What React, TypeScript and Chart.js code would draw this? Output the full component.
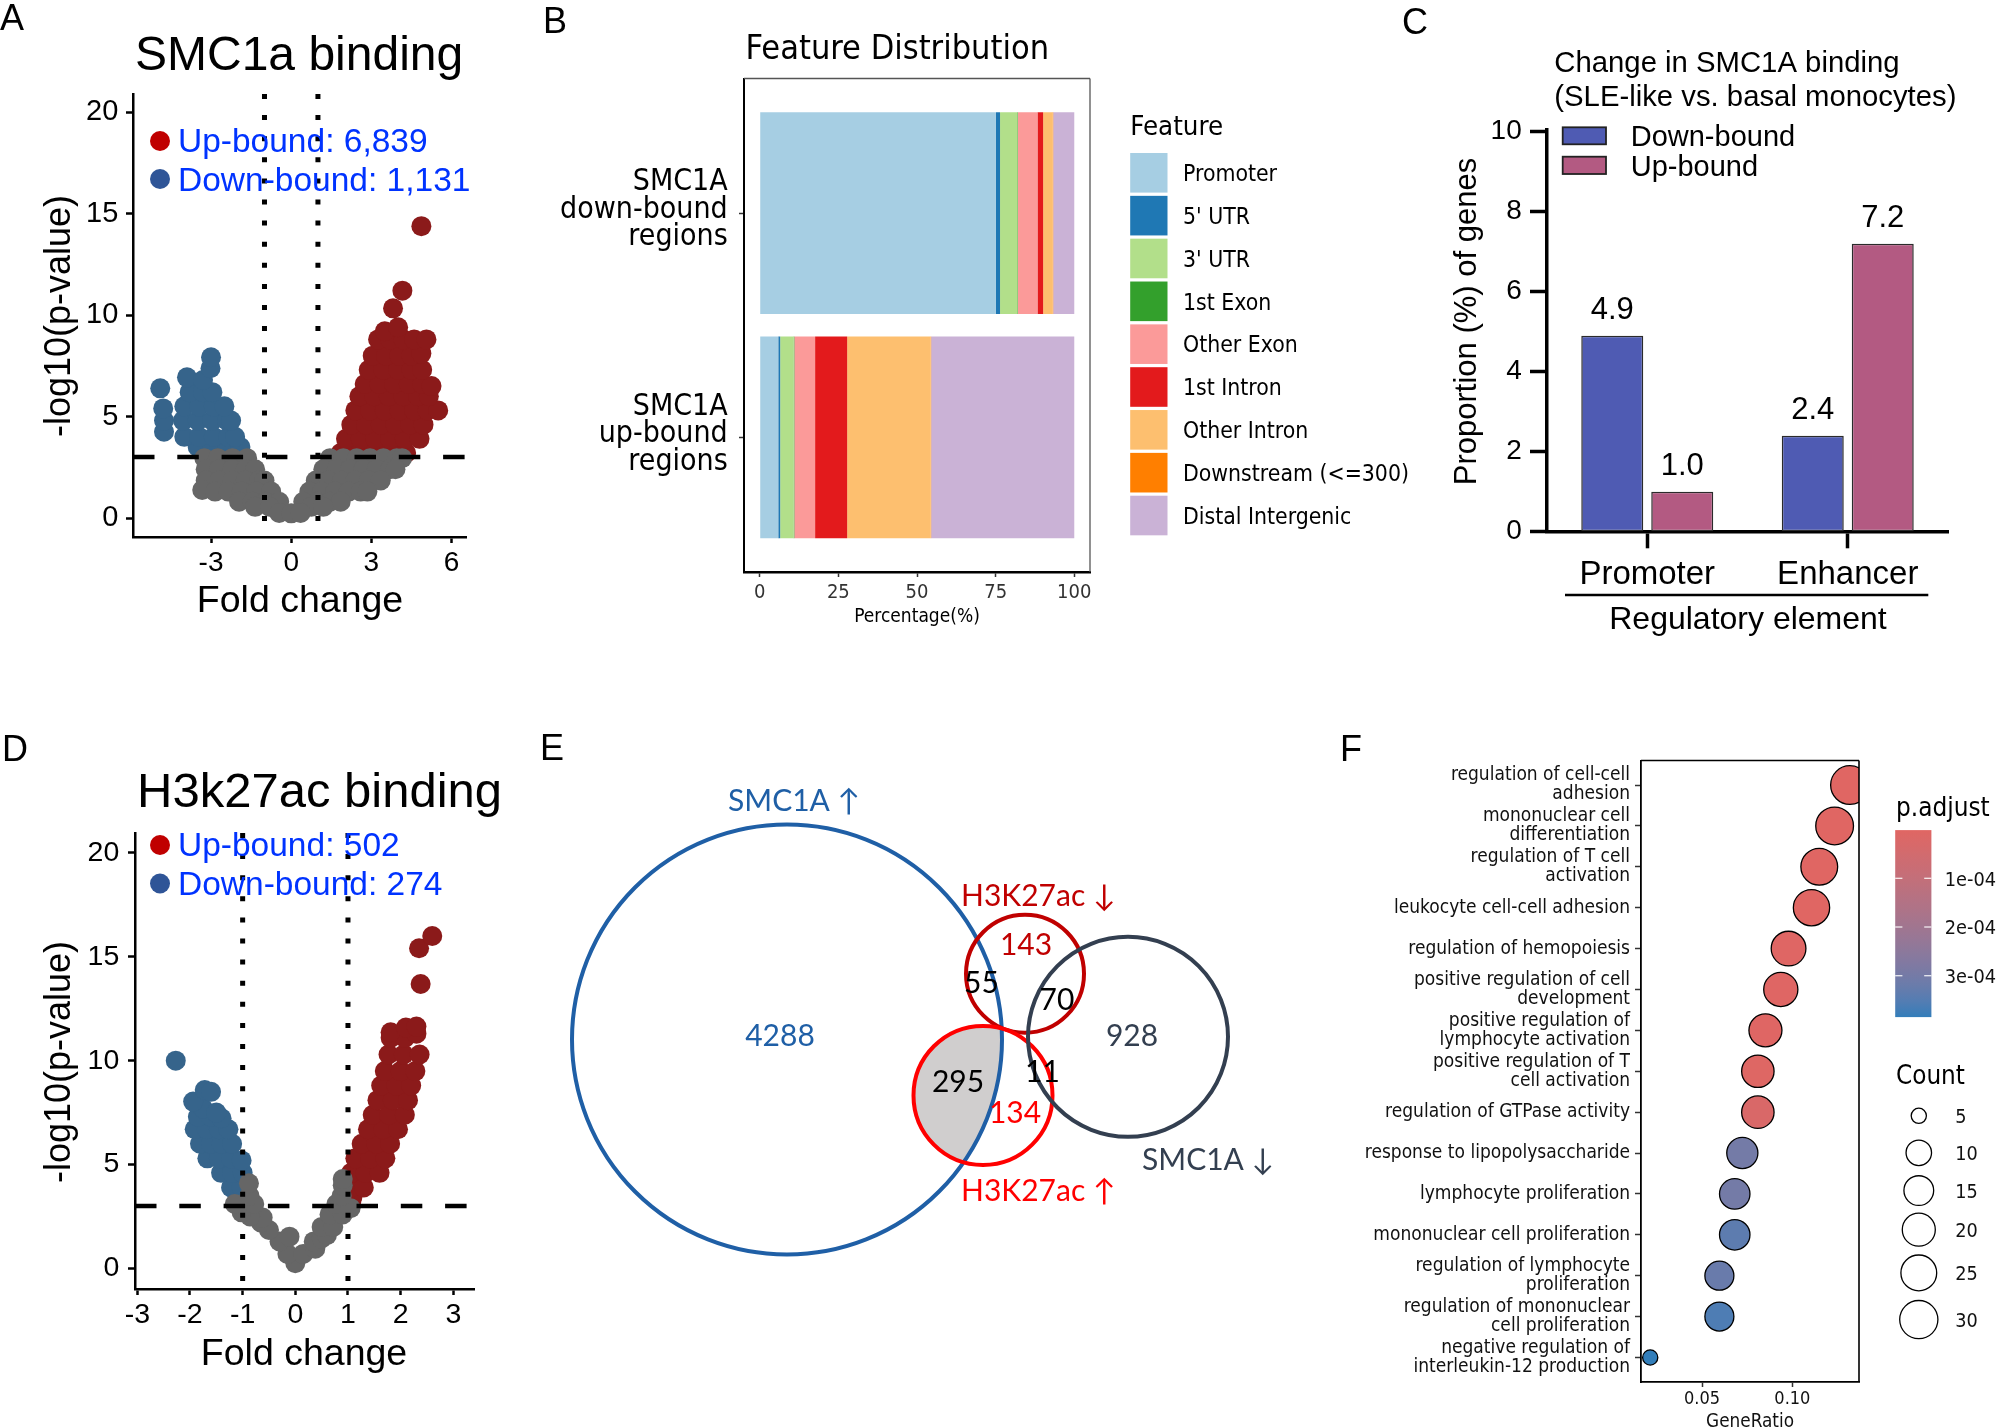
import React, { useEffect, useRef } from "react";
import { Chart, registerables } from "chart.js";

Chart.register(...registerables);

const ARIAL = "'Liberation Sans', Arial, sans-serif";
const COND = "'DejaVu Sans Condensed', 'DejaVu Sans', sans-serif";
const VENN = "Lato, 'Liberation Sans', sans-serif";

// ---------------- Panel A: SMC1a binding (volcano) ----------------
const aXTicks = [-3, 0, 3, 6];
const aYTicks = [0, 5, 10, 15, 20];
const aLegend = ["Up-bound: 6,839", "Down-bound: 1,131"];
const aGray = [
  [-3.25, 2.95], [-2.75, 2.95], [-2.2, 2.95], [-1.65, 2.95], [1.45, 2.95], [1.95, 2.95], [2.45, 2.95], [2.95, 2.95], [3.45, 2.95], [3.95, 2.95], [4.15, 2.95],
  [-3.2, 2.4], [-2.7, 2.4], [-2.2, 2.4], [-1.7, 2.4], [-1.35, 2.4], [1.2, 2.4], [1.7, 2.4], [2.2, 2.4], [2.7, 2.4], [3.2, 2.4], [3.7, 2.4], [3.9, 2.4],
  [-3.2, 1.85], [-2.7, 1.85], [-2.2, 1.85], [-1.7, 1.85], [-1.2, 1.85], [-1.0, 1.85], [0.92, 1.85], [1.4, 1.85], [1.9, 1.85], [2.4, 1.85], [2.9, 1.85], [3.35, 1.85],
  [-3.33, 1.38], [-2.85, 1.3], [-2.35, 1.3], [-1.85, 1.3], [-1.3, 1.3], [-0.75, 1.3], [0.68, 1.3], [1.15, 1.3], [1.65, 1.3], [2.15, 1.3], [2.6, 1.3], [2.85, 1.3],
  [-1.95, 0.8], [-1.45, 0.8], [-0.95, 0.8], [-0.45, 0.8], [0.45, 0.8], [0.95, 0.8], [1.45, 0.8], [1.85, 0.8],
  [-1.35, 0.55], [-0.8, 0.55], [0.75, 0.55], [1.2, 0.55],
  [-0.45, 0.25], [0, 0.23], [0.35, 0.25],
];
const aUp = [
  [1.85, 3.2], [2.4, 3.2], [2.95, 3.2], [3.5, 3.2], [4.05, 3.2], [4.3, 3.2],
  [2.05, 3.9], [2.6, 3.9], [3.15, 3.9], [3.7, 3.9], [4.25, 3.9], [4.8, 3.9],
  [2.25, 4.6], [2.8, 4.6], [3.35, 4.6], [3.9, 4.6], [4.45, 4.6], [4.95, 4.6],
  [2.4, 5.3], [2.95, 5.3], [3.5, 5.3], [4.05, 5.3], [4.6, 5.3], [5.1, 5.3], [5.5, 5.3],
  [2.55, 6.0], [3.1, 6.0], [3.65, 6.0], [4.2, 6.0], [4.75, 6.0], [5.15, 6.0],
  [2.75, 6.6], [3.3, 6.6], [3.85, 6.6], [4.4, 6.6], [4.9, 6.6], [5.25, 6.5],
  [2.9, 7.3], [3.45, 7.3], [4.0, 7.3], [4.5, 7.3], [4.9, 7.3],
  [3.05, 8.0], [3.55, 8.0], [4.05, 8.0], [4.5, 8.0], [4.87, 8.1],
  [3.25, 8.8], [3.7, 8.8], [4.2, 8.8], [4.6, 8.8], [5.06, 8.8],
  [3.5, 9.2], [4.0, 9.4],
  [3.81, 10.33], [4.16, 11.2], [4.87, 14.38],
];
const aDown = [
  [-3.5, 3.5], [-2.95, 3.5], [-2.4, 3.5], [-1.9, 3.5],
  [-4.0, 4.0], [-3.45, 4.0], [-2.9, 4.0], [-2.35, 4.0], [-2.1, 4.0],
  [-4.76, 4.25],
  [-4.76, 4.8], [-4.05, 4.8], [-3.5, 4.8], [-2.95, 4.8], [-2.4, 4.8], [-2.25, 4.8],
  [-4.79, 5.4], [-4.0, 5.5], [-3.45, 5.5], [-2.9, 5.5], [-2.5, 5.5],
  [-3.8, 6.2], [-3.3, 6.2], [-2.95, 6.2],
  [-4.9, 6.39], [-3.9, 6.93], [-3.3, 6.8], [-3.02, 7.38], [-3.0, 7.92],
];

// ---------------- Panel D: H3k27ac binding (volcano) ----------------
const dXTicks = [-3, -2, -1, 0, 1, 2, 3];
const dYTicks = [0, 5, 10, 15, 20];
const dLegend = ["Up-bound: 502", "Down-bound: 274"];
const dGray = [
  [0, 0.25], [-0.15, 0.7], [0.15, 0.7], [-0.3, 1.3], [-0.11, 1.53], [-0.5, 1.85], [-0.65, 2.2], [-0.62, 2.45], [-0.86, 2.5],
  [-1.02, 2.7], [-0.95, 3.0], [-1.15, 3.1], [-0.78, 3.1], [-0.87, 3.5], [-0.88, 4.1],
  [0.38, 0.95], [0.35, 1.3], [0.5, 1.45], [0.6, 1.6], [0.5, 2.0], [0.72, 2.0], [0.65, 2.6], [0.9, 2.6], [0.78, 3.1], [1.05, 2.9],
  [0.88, 3.5], [0.9, 4.0], [0.9, 4.3],
];
const dUp = [
  [1.07, 3.3], [1.09, 3.5], [1.06, 3.9], [1.3, 3.9],
  [1.06, 4.6], [1.33, 4.6], [1.6, 4.6],
  [1.14, 5.3], [1.42, 5.3], [1.71, 5.3],
  [1.26, 6.0], [1.54, 6.0], [1.8, 6.0],
  [1.38, 6.7], [1.67, 6.7], [1.95, 6.7],
  [1.47, 7.4], [1.78, 7.4], [2.08, 7.4],
  [1.56, 8.1], [1.85, 8.1], [2.14, 8.1],
  [1.63, 8.8], [1.92, 8.8], [2.2, 8.8],
  [1.7, 9.5], [2.0, 9.5], [2.28, 9.5],
  [1.77, 10.3], [2.06, 10.3], [2.36, 10.3],
  [1.81, 11.1], [2.08, 11.1], [2.3, 11.3],
  [1.81, 11.37], [2.1, 11.6], [2.3, 11.64],
  [2.38, 13.69], [2.35, 15.41], [2.6, 16.0],
];
const dDown = [
  [-1.1, 3.3], [-1.22, 3.9], [-1.02, 3.9],
  [-1.41, 4.6], [-1.2, 4.6], [-1.0, 4.6],
  [-1.67, 5.3], [-1.45, 5.3], [-1.22, 5.3], [-1.02, 5.2],
  [-1.81, 6.0], [-1.6, 6.0], [-1.4, 6.0], [-1.2, 6.0],
  [-1.91, 6.7], [-1.68, 6.7], [-1.45, 6.7], [-1.27, 6.7],
  [-1.85, 7.3], [-1.6, 7.3], [-1.4, 7.23],
  [-1.75, 7.7], [-1.5, 7.5],
  [-1.94, 8.03], [-1.72, 8.59], [-1.6, 8.5], [-2.27, 10.0],
];
const foldChangeCut = [-1, 1];
const log10PCut = 3;

// ---------------- Panel B: feature distribution ----------------
const bRegions = [["SMC1A", "down-bound", "regions"], ["SMC1A", "up-bound", "regions"]];
const bFeatures = ["Promoter", "5' UTR", "3' UTR", "1st Exon", "Other Exon", "1st Intron", "Other Intron", "Downstream (<=300)", "Distal Intergenic"];
const bDownBound = [75.1, 1.3, 5.5, 0.2, 6.2, 1.8, 3.0, 0.2, 6.7];
const bUpBound = [5.9, 0.6, 4.3, 0.2, 6.6, 10.2, 26.6, 0.1, 45.5];
const bXTicks = [0, 25, 50, 75, 100];

// ---------------- Panel C: change in SMC1A binding ----------------
const cElements = ["Promoter", "Enhancer"];
const cSeries = ["Down-bound", "Up-bound"];
const cDownBound = [4.9, 2.4];
const cUpBound = [1.0, 7.2];
const cYTicks = [0, 2, 4, 6, 8, 10];

// ---------------- Panel E: Venn ----------------
const vennSets = ["SMC1A ↑", "H3K27ac ↓", "H3K27ac ↑", "SMC1A ↓"];
const vennRegionCounts = [4288, 143, 55, 70, 928, 295, 11, 134];

// ---------------- Panel F: GO enrichment ----------------
const goTerms = [
  ["regulation of cell-cell", "adhesion"],
  ["mononuclear cell", "differentiation"],
  ["regulation of T cell", "activation"],
  ["leukocyte cell-cell adhesion"],
  ["regulation of hemopoiesis"],
  ["positive regulation of cell", "development"],
  ["positive regulation of", "lymphocyte activation"],
  ["positive regulation of T", "cell activation"],
  ["regulation of GTPase activity"],
  ["response to lipopolysaccharide"],
  ["lymphocyte proliferation"],
  ["mononuclear cell proliferation"],
  ["regulation of lymphocyte", "proliferation"],
  ["regulation of mononuclear", "cell proliferation"],
  ["negative regulation of", "interleukin-12 production"],
];
const goGeneRatio = [0.1319, 0.1234, 0.1149, 0.1106, 0.0979, 0.0936, 0.0851, 0.0809, 0.0809, 0.0723, 0.0681, 0.0681, 0.0596, 0.0596, 0.0213];
const goCount = [31, 29, 27, 26, 23, 22, 20, 19, 19, 17, 16, 16, 14, 14, 5];
const goPAdjust = [1.0e-6, 1.4e-6, 2.1e-6, 2.3e-6, 3.9e-6, 4.6e-6, 5.2e-6, 6.8e-6, 2.4e-5, 3.0e-4, 3.0e-4, 3.39e-4, 3.2e-4, 3.58e-4, 3.85e-4];
const fXTicks = [0.05, 0.1];
const fColorTicks = [1e-4, 2e-4, 3e-4];
const fSizeBreaks = [5, 10, 15, 20, 25, 30];

// ================= styling / layout =================
const GRAY = "#666666";
const RED = "#8B1A1A";
const BLUE = "#36648B";
const LEG_RED = "#C00000";
const LEG_BLUE = "#2F5597";
const LEG_TXT = "#0033FF";
const B_COLORS = ["#A6CEE3", "#1F78B4", "#B2DF8A", "#33A02C", "#FB9A99", "#E31A1C", "#FDBF6F", "#FF7F00", "#CAB2D6"];
const C_COLORS = ["#4F5BB3", "#B35A82"];
const VENN_COLORS = ["#1F5FA6", "#C00000", "#FF0000", "#333F50"];
const VENN_GEO = { cx: [257, 495, 453, 598], cy: [319.5, 253.7, 375.4, 316.8], r: [215, 59, 69.5, 100] };
const NOPLUG = { legend: { display: false }, tooltip: { enabled: false }, title: { display: false } };

type Geo = { L: number; T: number; W: number; H: number; al: number; at: number; ar: number; ab: number };
const GA: Geo = { L: 0, T: 0, W: 500, H: 650, al: 133, at: 94, ar: 466, ab: 537 };
const GB: Geo = { L: 520, T: 0, W: 910, H: 650, al: 744, at: 78.5, ar: 1090, ab: 572 };
const GC: Geo = { L: 1395, T: 0, W: 603, H: 660, al: 1547, at: 130, ar: 1948, ab: 531.7 };
const GD: Geo = { L: 0, T: 720, W: 500, H: 700, al: 135, at: 833, ar: 474, ab: 1289 };
const GE: Geo = { L: 530, T: 720, W: 800, H: 600, al: 530, at: 720, ar: 1330, ab: 1320 };
const GF: Geo = { L: 1340, T: 725, W: 658, H: 703, al: 1641, at: 760.5, ar: 1859, ab: 1382 };

function fitGeo(g: Geo) {
  const zero = (s: any) => { s.paddingLeft = 0; s.paddingRight = 0; s.paddingTop = 0; s.paddingBottom = 0; };
  return {
    padding: { left: 0, top: g.at - g.T, right: g.L + g.W - g.ar, bottom: 0 },
    yFit: (s: any) => { s.width = g.al - g.L; zero(s); },
    xFit: (s: any) => { s.height = g.T + g.H - g.ab; zero(s); },
  };
}
const fixTicks = (vals: number[]) => (s: any) => { s.ticks = vals.map((v) => ({ value: v })); };

function txt(ctx: CanvasRenderingContext2D, s: string, x: number, y: number, size: number, family: string, color: string,
  align: CanvasTextAlign = "left", rot = 0, baseline: CanvasTextBaseline = "alphabetic") {
  ctx.save();
  ctx.translate(x, y);
  if (rot) ctx.rotate(rot);
  ctx.font = `${size}px ${family}`;
  ctx.fillStyle = color;
  ctx.textAlign = align;
  ctx.textBaseline = baseline;
  ctx.fillText(s, 0, 0);
  ctx.restore();
}
function disc(ctx: CanvasRenderingContext2D, x: number, y: number, r: number, fill: string, stroke?: string, lw = 1) {
  ctx.beginPath();
  ctx.arc(x, y, r, 0, Math.PI * 2);
  ctx.fillStyle = fill;
  ctx.fill();
  if (stroke) { ctx.lineWidth = lw; ctx.strokeStyle = stroke; ctx.stroke(); }
}
function seg(ctx: CanvasRenderingContext2D, x1: number, y1: number, x2: number, y2: number, color: string, lw: number) {
  ctx.beginPath();
  ctx.moveTo(x1, y1);
  ctx.lineTo(x2, y2);
  ctx.strokeStyle = color;
  ctx.lineWidth = lw;
  ctx.stroke();
}
function overlay(g: Geo, after: (ctx: CanvasRenderingContext2D, chart: any) => void, before?: (ctx: CanvasRenderingContext2D, chart: any) => void) {
  return {
    id: "overlay",
    beforeDatasetsDraw(chart: any) {
      if (!before) return;
      const ctx = chart.ctx; ctx.save(); before(ctx, chart); ctx.restore();
    },
    afterDraw(chart: any) {
      const ctx = chart.ctx; ctx.save(); ctx.translate(-g.L, -g.T); after(ctx, chart); ctx.restore();
    },
  };
}

// ---- Lab colour interpolation (ggplot-like gradient) ----
function hexRgb(h: string) { const n = parseInt(h.slice(1), 16); return [(n >> 16) & 255, (n >> 8) & 255, n & 255]; }
function toLin(c: number) { c /= 255; return c <= 0.04045 ? c / 12.92 : Math.pow((c + 0.055) / 1.055, 2.4); }
function fromLin(c: number) { const v = c <= 0.0031308 ? 12.92 * c : 1.055 * Math.pow(c, 1 / 2.4) - 0.055; return Math.round(Math.max(0, Math.min(1, v)) * 255); }
function rgbLab(rgb: number[]) {
  const [R, G, B] = rgb.map(toLin);
  const X = (0.4124 * R + 0.3576 * G + 0.1805 * B) / 0.95047;
  const Y = 0.2126 * R + 0.7152 * G + 0.0722 * B;
  const Z = (0.0193 * R + 0.1192 * G + 0.9505 * B) / 1.08883;
  const f = (t: number) => (t > 0.008856 ? Math.cbrt(t) : 7.787 * t + 16 / 116);
  const fx = f(X), fy = f(Y), fz = f(Z);
  return [116 * fy - 16, 500 * (fx - fy), 200 * (fy - fz)];
}
function labRgb(lab: number[]) {
  const [L, a, b] = lab;
  const fy = (L + 16) / 116, fx = fy + a / 500, fz = fy - b / 200;
  const inv = (t: number) => (t * t * t > 0.008856 ? t * t * t : (t - 16 / 116) / 7.787);
  const X = inv(fx) * 0.95047, Y = inv(fy), Z = inv(fz) * 1.08883;
  const R = 3.2406 * X - 1.5372 * Y - 0.4986 * Z;
  const G = -0.9689 * X + 1.8758 * Y + 0.0415 * Z;
  const B = 0.0557 * X - 0.204 * Y + 1.057 * Z;
  return `rgb(${fromLin(R)},${fromLin(G)},${fromLin(B)})`;
}
const LAB_LOW = rgbLab(hexRgb("#E06663"));
const LAB_HIGH = rgbLab(hexRgb("#327EBA"));
const gradAt = (t: number) => labRgb(LAB_LOW.map((v, i) => v + (LAB_HIGH[i] - v) * t));
const P_MIN = Math.min(...goPAdjust);
const P_MAX = Math.max(...goPAdjust);
const colorOf = (p: number) => gradAt((p - P_MIN) / (P_MAX - P_MIN));
const C_MIN = Math.min(...goCount);
const C_MAX = Math.max(...goCount);
const sizeOf = (c: number) => 7.6 + 11.73 * Math.sqrt(Math.max(0, c - C_MIN) / (C_MAX - C_MIN));

// ================= panel builders =================
function volcano(p: any) {
  const g: Geo = p.g;
  const f = fitGeo(g);
  const pts = (a: number[][]) => a.map(([x, y]) => ({ x, y }));
  const refLine = (data: any[], dash: number[], w: number) => ({
    data, showLine: true, borderColor: "#000", borderWidth: w, borderDash: dash, borderCapStyle: "butt",
    pointRadius: 0, pointHoverRadius: 0, fill: false,
  });
  const cloud = (a: number[][], color: string) => ({
    data: pts(a), showLine: false, pointRadius: 10, pointHoverRadius: 10, pointBackgroundColor: color,
    pointBorderColor: color, pointBorderWidth: 0, borderWidth: 0,
  });
  const axis = (len: number) => ({
    grid: { display: true, drawOnChartArea: false, drawTicks: true, tickLength: len, tickWidth: 2.5, tickColor: "#000" },
    border: { display: true, color: "#000", width: 2.5 },
  });
  return {
    type: "scatter",
    data: {
      datasets: [
        refLine([{ x: foldChangeCut[0], y: p.yr[1] }, { x: foldChangeCut[0], y: p.yr[0] }], [5, 16.1], 5),
        refLine([{ x: foldChangeCut[1], y: p.yr[1] }, { x: foldChangeCut[1], y: p.yr[0] }], [5, 16.1], 5),
        refLine([{ x: p.xr[0], y: log10PCut }, { x: p.xr[1], y: log10PCut }], [21.5, 22.8], 4.5),
        cloud(p.gray, GRAY),
        cloud(p.down, BLUE),
        cloud(p.up, RED),
      ],
    },
    options: {
      responsive: false, animation: false, events: [],
      layout: { padding: f.padding, autoPadding: false },
      plugins: NOPLUG,
      scales: {
        x: {
          type: "linear", min: p.xr[0], max: p.xr[1], afterFit: f.xFit, afterBuildTicks: fixTicks(p.xTicks),
          ticks: { font: { family: ARIAL, size: p.xTickSize }, color: "#000", padding: 3, maxRotation: 0, minRotation: 0, autoSkip: false, callback: (v: number) => String(v) },
          ...axis(6),
        },
        y: {
          type: "linear", min: p.yr[0], max: p.yr[1], afterFit: f.yFit, afterBuildTicks: fixTicks(p.yTicks),
          ticks: { font: { family: ARIAL, size: p.yTickSize }, color: "#000", padding: p.yPad, autoSkip: false, callback: (v: number) => String(v) },
          ...axis(7),
        },
      },
    },
    plugins: [overlay(g, (ctx) => p.draw(ctx))],
  };
}

function panelA() {
  return volcano({
    g: GA, xr: [-5.92, 6.54], yr: [-0.936, 20.89], xTicks: aXTicks, yTicks: aYTicks,
    gray: aGray, up: aUp, down: aDown, xTickSize: 28, yTickSize: 29, yPad: 7.7,
    draw: (ctx: CanvasRenderingContext2D) => {
      txt(ctx, "A", 0, 30, 36, ARIAL, "#000");
      txt(ctx, "SMC1a binding", 135, 69.5, 48, ARIAL, "#000");
      disc(ctx, 160, 141, 10, LEG_RED);
      disc(ctx, 160, 179, 10, LEG_BLUE);
      txt(ctx, aLegend[0], 178, 151.7, 33.5, ARIAL, LEG_TXT);
      txt(ctx, aLegend[1], 178, 190.7, 33.5, ARIAL, LEG_TXT);
      txt(ctx, "-log10(p-value)", 60, 316, 36, ARIAL, "#000", "center", -Math.PI / 2, "middle");
      txt(ctx, "Fold change", 300, 612, 37.5, ARIAL, "#000", "center");
    },
  });
}

function panelD() {
  return volcano({
    g: GD, xr: [-3.044, 3.393], yr: [-0.99, 20.96], xTicks: dXTicks, yTicks: dYTicks,
    gray: dGray, up: dUp, down: dDown, xTickSize: 28.5, yTickSize: 28.5, yPad: 8.7,
    draw: (ctx: CanvasRenderingContext2D) => {
      txt(ctx, "D", 2, 761, 36, ARIAL, "#000");
      txt(ctx, "H3k27ac binding", 137, 807, 49, ARIAL, "#000");
      disc(ctx, 160, 845, 10, LEG_RED);
      disc(ctx, 160, 883.5, 10, LEG_BLUE);
      txt(ctx, dLegend[0], 178, 856, 33.5, ARIAL, LEG_TXT);
      txt(ctx, dLegend[1], 178, 895.2, 33.5, ARIAL, LEG_TXT);
      txt(ctx, "-log10(p-value)", 60, 1062, 36, ARIAL, "#000", "center", -Math.PI / 2, "middle");
      txt(ctx, "Fold change", 304, 1365, 37.5, ARIAL, "#000", "center");
    },
  });
}

function panelB() {
  const g = GB;
  const f = fitGeo(g);
  return {
    type: "bar",
    data: {
      datasets: bFeatures.map((name, i) => ({
        label: name,
        data: [{ x: bDownBound[i], y: 1 }, { x: bUpBound[i], y: 2 }],
        backgroundColor: B_COLORS[i], borderWidth: 0, categoryPercentage: 0.9, barPercentage: 1,
      })),
    },
    options: {
      indexAxis: "y", responsive: false, animation: false, events: [],
      layout: { padding: f.padding, autoPadding: false },
      plugins: NOPLUG,
      scales: {
        x: {
          type: "linear", stacked: true, min: -5, max: 105, afterFit: f.xFit, afterBuildTicks: fixTicks(bXTicks),
          ticks: { font: { family: COND, size: 20 }, color: "#333", padding: 4, maxRotation: 0, minRotation: 0, autoSkip: false, callback: (v: number) => String(v) },
          grid: { display: true, offset: false, drawOnChartArea: false, drawTicks: true, tickLength: 5, tickWidth: 1.5, tickColor: "#333" },
          border: { display: true, color: "#000", width: 2.5 },
        },
        y: {
          type: "linear", stacked: true, reverse: true, offset: false, min: 0.4, max: 2.6, afterFit: f.yFit, afterBuildTicks: fixTicks([1, 2]),
          ticks: { font: { family: COND, size: 30, lineHeight: "27.5px" }, color: "#000", padding: 11.3, labelOffset: -3, autoSkip: false, callback: (v: number) => bRegions[v - 1] },
          grid: { display: true, offset: false, drawOnChartArea: false, drawTicks: true, tickLength: 5, tickWidth: 1.5, tickColor: "#333" },
          border: { display: true, color: "#000", width: 2 },
        },
      },
    },
    plugins: [overlay(g, (ctx) => {
      txt(ctx, "B", 543, 33, 36, ARIAL, "#000");
      txt(ctx, "Feature Distribution", 745.6, 59.2, 34, COND, "#000");
      seg(ctx, g.al, g.at, g.ar, g.at, "#555", 1.3);
      seg(ctx, g.ar, g.at, g.ar, g.ab, "#555", 1.3);
      txt(ctx, "Percentage(%)", 917, 622, 19, COND, "#000", "center");
      txt(ctx, "Feature", 1130.2, 134.6, 27.4, COND, "#000");
      bFeatures.forEach((name, i) => {
        const top = 153 + i * 42.84;
        ctx.fillStyle = B_COLORS[i];
        ctx.fillRect(1130.2, top, 37.3, 39.6);
        txt(ctx, name, 1183, top + 19.8 + 8.3, 22.8, COND, "#000");
      });
    })],
  };
}

function panelC() {
  const g = GC;
  const f = fitGeo(g);
  const series = [cDownBound, cUpBound];
  return {
    type: "bar",
    data: {
      labels: cElements,
      datasets: series.map((vals, i) => ({
        label: cSeries[i], data: vals, backgroundColor: C_COLORS[i], borderColor: "#2b2b2b", borderWidth: 1.5,
        borderSkipped: false, categoryPercentage: 0.698, barPercentage: 0.886,
      })),
    },
    options: {
      responsive: false, animation: false, events: [],
      layout: { padding: f.padding, autoPadding: false },
      plugins: NOPLUG,
      scales: {
        x: {
          type: "category", offset: true, afterFit: f.xFit,
          ticks: { font: { family: ARIAL, size: 33 }, color: "#000", padding: 6.7, maxRotation: 0, minRotation: 0, autoSkip: false },
          grid: { display: true, offset: false, drawOnChartArea: false, drawTicks: true, tickLength: 16.6, tickWidth: 3.5, tickColor: "#000" },
          border: { display: true, color: "#000", width: 3.5 },
        },
        y: {
          type: "linear", min: 0, max: 10.04, afterFit: f.yFit, afterBuildTicks: fixTicks(cYTicks),
          ticks: { font: { family: ARIAL, size: 28 }, color: "#000", padding: 8.3, autoSkip: false, callback: (v: number) => String(v) },
          grid: { display: true, drawOnChartArea: false, drawTicks: true, tickLength: 17, tickWidth: 3.5, tickColor: "#000" },
          border: { display: true, color: "#000", width: 3.5 },
        },
      },
    },
    plugins: [overlay(g, (ctx, chart) => {
      txt(ctx, "C", 1402, 34, 36, ARIAL, "#000");
      txt(ctx, "Change in SMC1A binding", 1554.3, 72, 29.3, ARIAL, "#000");
      txt(ctx, "(SLE-like vs. basal monocytes)", 1554.3, 106, 29.3, ARIAL, "#000");
      const boxes = [[127.3, 17], [156.7, 17.3]];
      boxes.forEach(([y, h], i) => {
        ctx.fillStyle = C_COLORS[i];
        ctx.fillRect(1562.7, y, 43.3, h);
        ctx.lineWidth = 1.8; ctx.strokeStyle = "#222";
        ctx.strokeRect(1562.7, y, 43.3, h);
      });
      txt(ctx, cSeries[0], 1630.7, 146, 29, ARIAL, "#000");
      txt(ctx, cSeries[1], 1630.7, 175.7, 29, ARIAL, "#000");
      series.forEach((vals, i) => {
        const meta = chart.getDatasetMeta(i);
        vals.forEach((v, j) => {
          const el = meta.data[j];
          txt(ctx, v.toFixed(1), el.x + g.L, el.y + g.T - 16.5, 31, ARIAL, "#000", "center");
        });
      });
      seg(ctx, 1565, 595, 1928.3, 595, "#000", 2.5);
      txt(ctx, "Regulatory element", 1748, 629, 32, ARIAL, "#000", "center");
      txt(ctx, "Proportion (%) of genes", 1467.5, 321.5, 31, ARIAL, "#000", "center", -Math.PI / 2, "middle");
    })],
  };
}

function panelE() {
  const g = GE;
  return {
    type: "bubble",
    data: {
      datasets: [{
        data: VENN_GEO.cx.map((x, i) => ({ x, y: VENN_GEO.cy[i], r: VENN_GEO.r[i] })),
        borderColor: VENN_COLORS, backgroundColor: "rgba(0,0,0,0)", borderWidth: 4, hoverBorderWidth: 4, hoverRadius: 0,
        clip: false,
      }],
    },
    options: {
      responsive: false, animation: false, events: [],
      layout: { padding: 0, autoPadding: false },
      plugins: NOPLUG,
      scales: {
        x: { type: "linear", display: false, offset: false, min: 0, max: g.W },
        y: { type: "linear", display: false, offset: false, min: 0, max: g.H, reverse: true },
      },
    },
    plugins: [overlay(g, (ctx) => {
      txt(ctx, "E", 540, 760, 36, ARIAL, "#000");
      txt(ctx, vennSets[0], 728, 811, 30, VENN, VENN_COLORS[0]);
      txt(ctx, vennSets[1], 961, 905.5, 30, VENN, VENN_COLORS[1]);
      txt(ctx, vennSets[2], 961, 1201, 30, VENN, VENN_COLORS[2]);
      txt(ctx, vennSets[3], 1142, 1169.5, 30, VENN, VENN_COLORS[3]);
      const spots = [
        [780, 1046, VENN_COLORS[0]], [1026, 954.5, VENN_COLORS[1]], [981.5, 992.5, "#000"], [1057, 1010, "#000"],
        [1132, 1046, VENN_COLORS[3]], [958, 1091.5, "#000"], [1042.5, 1082, "#000"], [1015, 1123, VENN_COLORS[2]],
      ];
      vennRegionCounts.forEach((n, i) => {
        const [x, y, c] = spots[i] as any;
        txt(ctx, String(n), x, y, 30, VENN, c, "center");
      });
    }, (ctx, chart) => {
      const xs = chart.scales.x, ys = chart.scales.y;
      const P = (i: number) => [xs.getPixelForValue(VENN_GEO.cx[i]), ys.getPixelForValue(VENN_GEO.cy[i]), xs.getPixelForValue(VENN_GEO.cx[i] + VENN_GEO.r[i]) - xs.getPixelForValue(VENN_GEO.cx[i])];
      const [bx, by, br] = P(0);
      const [rx, ry, rr] = P(2);
      ctx.beginPath(); ctx.arc(bx, by, br, 0, Math.PI * 2); ctx.clip();
      ctx.beginPath(); ctx.arc(rx, ry, rr, 0, Math.PI * 2);
      ctx.fillStyle = "#D0CECE"; ctx.fill();
    })],
  };
}

function panelF() {
  const g = GF;
  const f = fitGeo(g);
  const radii = goCount.map(sizeOf);
  return {
    type: "scatter",
    data: {
      datasets: [{
        data: goGeneRatio.map((x, i) => ({ x, y: i + 1 })),
        showLine: false, pointRadius: radii, pointHoverRadius: radii,
        pointBackgroundColor: goPAdjust.map(colorOf), pointBorderColor: "#000", pointBorderWidth: 1.3, clip: 0,
      }],
    },
    options: {
      responsive: false, animation: false, events: [],
      layout: { padding: f.padding, autoPadding: false },
      plugins: NOPLUG,
      scales: {
        x: {
          type: "linear", min: 0.0162, max: 0.1369, afterFit: f.xFit, afterBuildTicks: fixTicks(fXTicks),
          ticks: { font: { family: COND, size: 18 }, color: "#111", padding: 2, maxRotation: 0, minRotation: 0, autoSkip: false, callback: (v: number) => v.toFixed(2) },
          grid: { display: true, drawOnChartArea: false, drawTicks: true, tickLength: 5, tickWidth: 1.5, tickColor: "#333" },
          border: { display: true, color: "#000", width: 1.8 },
        },
        y: {
          type: "linear", min: 0.4, max: 15.6, reverse: true, afterFit: f.yFit, afterBuildTicks: fixTicks(goTerms.map((_, i) => i + 1)),
          ticks: { font: { family: COND, size: 19, lineHeight: "19px" }, color: "#111", padding: 5, autoSkip: false, callback: (v: number) => goTerms[v - 1] },
          grid: { display: true, drawOnChartArea: false, drawTicks: true, tickLength: 6, tickWidth: 1.5, tickColor: "#333" },
          border: { display: true, color: "#000", width: 1.8 },
        },
      },
    },
    plugins: [overlay(g, (ctx) => {
      txt(ctx, "F", 1340, 761, 36, ARIAL, "#000");
      seg(ctx, g.al, g.at, g.ar, g.at, "#000", 1.6);
      seg(ctx, g.ar, g.at, g.ar, g.ab, "#000", 1.6);
      txt(ctx, "GeneRatio", 1750, 1426.7, 18.8, COND, "#111", "center");
      // colour bar
      txt(ctx, "p.adjust", 1896, 816, 25.9, COND, "#000");
      const cbX = 1895.2, cbY = 830.1, cbW = 36.2, cbH = 187;
      const grad = ctx.createLinearGradient(0, cbY, 0, cbY + cbH);
      for (let i = 0; i <= 24; i++) grad.addColorStop(i / 24, gradAt(i / 24));
      ctx.fillStyle = grad;
      ctx.fillRect(cbX, cbY, cbW, cbH);
      const fmt = (v: number) => {
        const [m, e] = v.toExponential(0).split("e");
        const ex = parseInt(e, 10);
        return `${m}e${ex < 0 ? "-" : "+"}${String(Math.abs(ex)).padStart(2, "0")}`;
      };
      fColorTicks.forEach((v) => {
        const y = cbY + ((v - P_MIN) / (P_MAX - P_MIN)) * cbH;
        seg(ctx, cbX, y, cbX + 7.2, y, "rgba(255,255,255,0.85)", 1.3);
        seg(ctx, cbX + cbW - 7.2, y, cbX + cbW, y, "rgba(255,255,255,0.85)", 1.3);
        txt(ctx, fmt(v), 1944.8, y + 7.2, 19.8, COND, "#111");
      });
      // size legend
      txt(ctx, "Count", 1896, 1083.8, 25.8, COND, "#000");
      const cys = [1115.8, 1152.8, 1190.6, 1229.7, 1272.9, 1319.6];
      fSizeBreaks.forEach((c, i) => {
        disc(ctx, 1918.8, cys[i], sizeOf(c), "#fff", "#000", 1.3);
        txt(ctx, String(c), 1955.3, cys[i] + 7.2, 19.7, COND, "#111");
      });
    })],
  };
}

function Panel({ geo, build }: { geo: Geo; build: () => any }) {
  const ref = useRef<HTMLCanvasElement | null>(null);
  useEffect(() => {
    if (!ref.current) return;
    const chart = new Chart(ref.current, build());
    return () => chart.destroy();
  }, []);
  return (
    <canvas ref={ref} width={geo.W} height={geo.H}
      style={{ position: "absolute", left: geo.L, top: geo.T, width: geo.W, height: geo.H }} />
  );
}

export default function App() {
  return (
    <div style={{ position: "absolute", left: 0, top: 0, width: 1998, height: 1428, background: "#fff", overflow: "hidden" }}>
      <Panel geo={GA} build={panelA} />
      <Panel geo={GB} build={panelB} />
      <Panel geo={GC} build={panelC} />
      <Panel geo={GD} build={panelD} />
      <Panel geo={GE} build={panelE} />
      <Panel geo={GF} build={panelF} />
    </div>
  );
}
